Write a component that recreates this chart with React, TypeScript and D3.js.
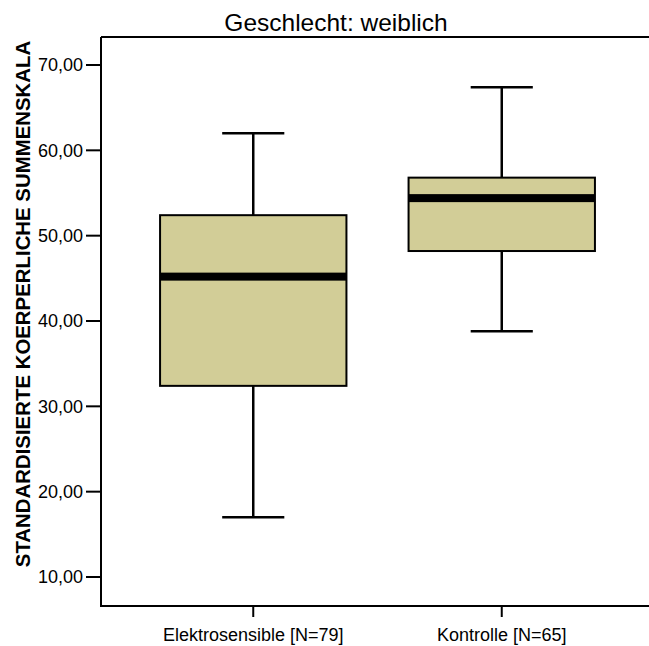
import React from "react";
import * as d3 from "d3";

// Box plot summary per group (min whisker, Q1, median, Q3, max whisker)
const groups = ["Elektrosensible [N=79]", "Kontrolle [N=65]"];
const whiskerLow = [17.0, 38.8];
const q1 = [32.4, 48.2];
const median = [45.2, 54.4];
const q3 = [52.4, 56.8];
const whiskerHigh = [62.0, 67.4];
const yTicks = [10, 20, 30, 40, 50, 60, 70];
const title = "Geschlecht: weiblich";
const yTitle = "STANDARDISIERTE KOERPERLICHE SUMMENSKALA";

const W = 649;
const H = 646;
const axisLeft = 101;
const axisTop = 37;
const axisBottom = 606;
const fill = "#d2cd97";
const font = "Liberation Sans, Arial, Helvetica, sans-serif";

export default function App() {
  const y = d3.scaleLinear().domain([10, 70]).range([577, 65]);
  const x = d3.scaleBand<string>().domain(groups).range([129, 626]);
  const bw = x.bandwidth();
  const boxW = bw * 0.75;
  const capW = bw * 0.25;
  const fmt = (v: number) => d3.format(".2f")(v).replace(".", ",");

  return (
    <svg
      width={W}
      height={H}
      style={{ position: "absolute", left: 0, top: 0, background: "#fff" }}
    >
      <text
        x={336}
        y={31}
        textAnchor="middle"
        fontFamily={font}
        fontSize={24.5}
        fill="#000"
      >
        {title}
      </text>

      {/* frame: top edge and axes */}
      <line x1={axisLeft} x2={W} y1={axisTop} y2={axisTop} stroke="#000" strokeWidth={2} />
      <line x1={axisLeft} x2={axisLeft} y1={axisTop} y2={axisBottom + 1} stroke="#000" strokeWidth={2} />
      <line x1={axisLeft} x2={W} y1={axisBottom} y2={axisBottom} stroke="#000" strokeWidth={2} />

      {yTicks.map((t) => (
        <g key={t}>
          <line x1={86} x2={axisLeft} y1={y(t)} y2={y(t)} stroke="#000" strokeWidth={2} />
          <text
            x={83}
            y={y(t)}
            dy="0.36em"
            textAnchor="end"
            fontFamily={font}
            fontSize={18}
            fill="#000"
          >
            {fmt(t)}
          </text>
        </g>
      ))}

      <text
        transform={`translate(30, ${304}) rotate(-90)`}
        textAnchor="middle"
        fontFamily={font}
        fontWeight="bold"
        fontSize={20.4}
        fill="#000"
      >
        {yTitle}
      </text>

      {groups.map((g, i) => {
        const cx = (x(g) as number) + bw / 2;
        return (
          <g key={g}>
            <line x1={cx} x2={cx} y1={axisBottom} y2={617} stroke="#000" strokeWidth={2} />
            <text
              x={cx}
              y={641}
              textAnchor="middle"
              fontFamily={font}
              fontSize={18}
              fill="#000"
            >
              {g}
            </text>
            {/* whiskers */}
            <line x1={cx} x2={cx} y1={y(whiskerHigh[i])} y2={y(q3[i])} stroke="#000" strokeWidth={2.5} />
            <line x1={cx} x2={cx} y1={y(q1[i])} y2={y(whiskerLow[i])} stroke="#000" strokeWidth={2.5} />
            <line
              x1={cx - capW / 2}
              x2={cx + capW / 2}
              y1={y(whiskerHigh[i])}
              y2={y(whiskerHigh[i])}
              stroke="#000"
              strokeWidth={2.5}
            />
            <line
              x1={cx - capW / 2}
              x2={cx + capW / 2}
              y1={y(whiskerLow[i])}
              y2={y(whiskerLow[i])}
              stroke="#000"
              strokeWidth={2.5}
            />
            {/* box */}
            <rect
              x={cx - boxW / 2}
              y={y(q3[i])}
              width={boxW}
              height={y(q1[i]) - y(q3[i])}
              fill={fill}
              stroke="#000"
              strokeWidth={2}
            />
            {/* median */}
            <rect
              x={cx - boxW / 2}
              y={y(median[i]) - 4}
              width={boxW}
              height={8}
              fill="#000"
            />
          </g>
        );
      })}
    </svg>
  );
}
